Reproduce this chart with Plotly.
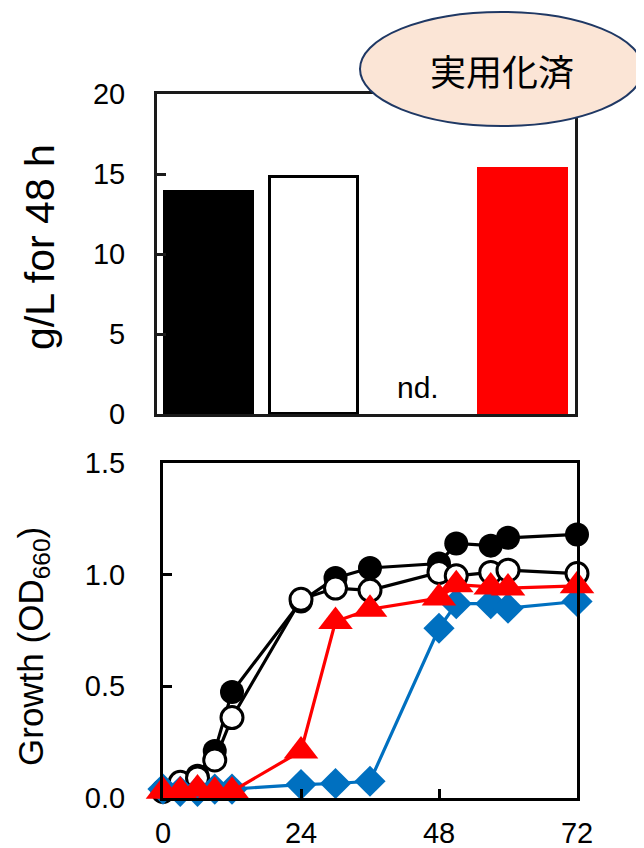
import plotly.graph_objects as go

# ---- data ----
strains = ["S1", "S2", "S3", "S4"]
titer_48h = [13.9, 14.8, None, 15.3]
bar_colors = ["#000000", "#ffffff", "#ffffff", "#ff0000"]
bar_line_colors = ["#000000", "#000000", "#000000", "#ff0000"]
nd_label = "nd."
badge_text = "実用化済"

time_h = [0, 3, 6, 9, 12, 24, 30, 36, 48, 51, 57, 60, 72]
od_filled = [0.03, 0.06, 0.10, 0.21, 0.475, 0.88, 0.985, 1.03, 1.05, 1.14, 1.13, 1.165, 1.18]
od_open = [0.03, 0.07, 0.09, 0.17, 0.36, 0.89, 0.94, 0.93, 1.01, 0.995, 1.01, 1.02, 1.005]
od_blue = [0.04, 0.03, 0.03, 0.04, 0.04, 0.06, 0.065, 0.075, 0.76, 0.87, 0.87, 0.85, 0.88]
od_red = [0.03, 0.03, 0.04, 0.03, 0.03, 0.21, 0.79, 0.845, 0.895, 0.955, 0.945, 0.94, 0.95]

x_ticks = [0, 24, 48, 72]
y1_ticks = [0, 5, 10, 15, 20]
y2_ticks = [0.0, 0.5, 1.0, 1.5]
y2_ticktext = ["0.0", "0.5", "1.0", "1.5"]

# page body has an 8px margin; lay out in window pixels and shift
OFF = 8
W, H = 644 - OFF, 848 - OFF
FONT = "Liberation Sans, Arial, sans-serif"


def px(xp):
    return (xp - OFF) / W


def py(yp):
    return 1 - (yp - OFF) / H


fig = go.Figure()

fig.add_trace(go.Bar(
    x=strains, y=titer_48h, width=0.84,
    marker=dict(color=bar_colors, line=dict(color=bar_line_colors, width=3)),
    xaxis="x", yaxis="y", showlegend=False,
))


def add_line(y, color, symbol, fill, size):
    fig.add_trace(go.Scatter(
        x=time_h, y=y, mode="lines+markers", cliponaxis=False,
        line=dict(color=color, width=3.2),
        marker=dict(symbol=symbol, size=size, color=fill,
                    line=dict(color=color, width=3 if fill == "#ffffff" else 0)),
        xaxis="x2", yaxis="y2", showlegend=False,
    ))


add_line(od_filled, "#000000", "circle", "#000000", 24)
add_line(od_open, "#000000", "circle", "#ffffff", 22)
add_line(od_blue, "#0070c0", "diamond", "#0070c0", 24)
add_line(od_red, "#ff0000", "triangle-up", "#ff0000", 30)

axis_common = dict(showline=True, mirror=True, linewidth=3, showgrid=False,
                   zeroline=False, ticks="inside", ticklen=9, tickwidth=3,
                   automargin=False,
                   tickfont=dict(family=FONT, size=29, color="#000000"))

fig.update_layout(
    template="none",
    width=W, height=H,
    margin=dict(l=0, r=0, t=0, b=0, pad=0),
    paper_bgcolor="white", plot_bgcolor="white",
    font=dict(family=FONT, color="#000000"),
    bargap=0,
    xaxis=dict(domain=[px(157), px(575)], anchor="y", range=[-0.5, 3.5],
               showline=True, mirror=True, linewidth=3, linecolor="#1a1a1a",
               showticklabels=False, ticks="", showgrid=False, zeroline=False,
               automargin=False),
    yaxis=dict(domain=[py(414), py(94)], anchor="x", range=[0, 20],
               tickvals=y1_ticks, linecolor="#1a1a1a", tickcolor="#1a1a1a",
               ticklabelstandoff=23, **axis_common),
    xaxis2=dict(domain=[px(163), px(577)], anchor="y2", range=[0, 72],
                tickvals=x_ticks, linecolor="#000000", tickcolor="#000000",
                ticklabelstandoff=7, **axis_common),
    yaxis2=dict(domain=[py(798), py(463)], anchor="x2", range=[0, 1.5],
                tickvals=y2_ticks, ticktext=y2_ticktext, linecolor="#000000",
                tickcolor="#000000", ticklabelstandoff=29, **axis_common),
)

fig.add_annotation(x=strains[2], y=0, xref="x", yref="y", text=nd_label,
                   showarrow=False, yanchor="bottom", yshift=8,
                   font=dict(family=FONT, size=30, color="#000000"))

fig.add_annotation(x=px(40), y=py(247), xref="paper", yref="paper",
                   xanchor="center", yanchor="middle",
                   text="g/L for 48 h", textangle=-90, showarrow=False,
                   font=dict(family=FONT, size=41, color="#000000"))
fig.add_annotation(x=px(33), y=py(647), xref="paper", yref="paper",
                   xanchor="center", yanchor="middle",
                   text="Growth (OD<sub>660</sub>)", textangle=-90, showarrow=False,
                   font=dict(family=FONT, size=35, color="#000000"))

fig.add_shape(type="circle", xref="paper", yref="paper",
              x0=px(360), x1=px(643), y0=py(126), y1=py(12),
              fillcolor="#fbe5d6", line=dict(color="#1f3864", width=2), layer="above")
fig.add_annotation(x=px(502), y=py(70), xref="paper", yref="paper",
                   xanchor="center", yanchor="middle",
                   text=badge_text, showarrow=False,
                   font=dict(family="Noto Sans CJK JP", size=36, color="#000000"))

fig.write_html("out.html")
